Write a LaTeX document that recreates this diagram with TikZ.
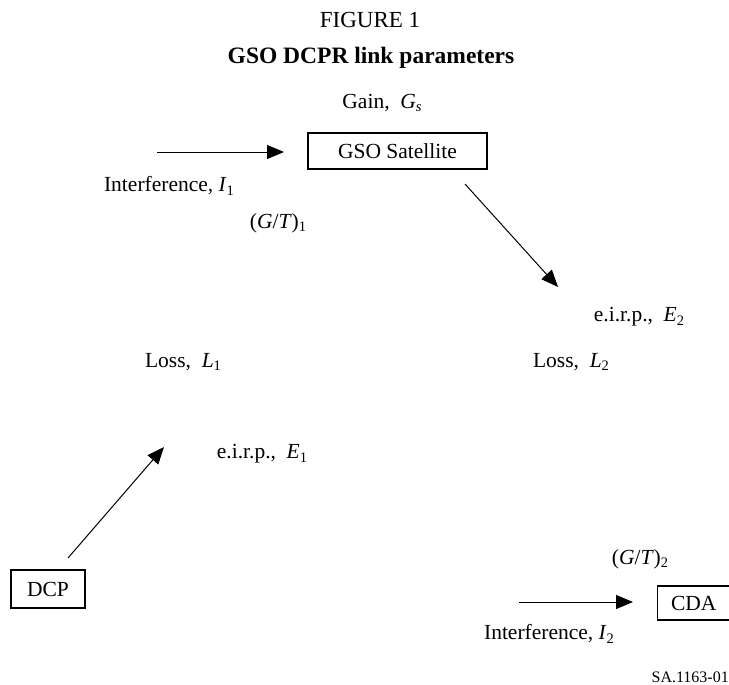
\documentclass[tikz,border=0pt]{standalone}
\usepackage{fontspec}
\setmainfont{Liberation Serif}
\usetikzlibrary{arrows.meta}
\newcommand{\vsub}[2]{\textit{#1}\raisebox{-0.35ex}{\fontsize{14.5}{14}\selectfont #2}}

\begin{document}
\begin{tikzpicture}[x=1pt,y=-1pt]
\tikzstyle{txt}=[inner sep=0pt, font=\fontsize{21.5}{26}\selectfont]
\tikzstyle{station}=[txt, draw, line width=1.4pt, minimum height=36pt]
\tikzstyle{link}=[line width=1pt, -{Triangle[length=17pt,width=14pt]}]
\useasboundingbox (0,0) rectangle (729,685);

\node[txt, font=\fontsize{23}{28}\selectfont] (fig) at (370,20) {FIGURE 1};
\node[txt, font=\fontsize{23.5}{28}\selectfont\bfseries] (title) at (371,58) {GSO DCPR link parameters};

% satellite
\node[station, minimum width=179pt] (sat) at (397.5,151) {GSO Satellite};
\node[txt] (gain) at (382,103) {Gain,\ \ \vsub{G}{\textit{s}}};
\node[txt] (int1) at (169,186) {Interference, \vsub{I}{1}};
\node[txt] (gt1) at (278,223) {(\textit{G}/\textit{T})\raisebox{-0.35ex}{\fontsize{14.5}{14}\selectfont 1}};

% ground stations
\node[station, minimum width=74pt, minimum height=38pt] (dcp) at (48,589) {DCP};
\node[station, minimum width=80pt, minimum height=34pt, anchor=west] (cda) at (657,603) {\hspace*{-8pt}CDA};

\node[txt] (eirp2) at (639,317) {e.i.r.p.,\ \ \vsub{E}{2}};
\node[txt] (loss1) at (183,362) {Loss,\ \ \vsub{L}{1}};
\node[txt] (loss2) at (571,362) {Loss,\ \ \vsub{L}{2}};
\node[txt] (eirp1) at (262,454) {e.i.r.p.,\ \ \vsub{E}{1}};
\node[txt] (gt2) at (640,559) {(\textit{G}/\textit{T})\raisebox{-0.35ex}{\fontsize{14.5}{14}\selectfont 2}};
\node[txt] (int2) at (549,634) {Interference, \vsub{I}{2}};
\node[txt, font=\fontsize{16}{18}\selectfont, anchor=east] (ref) at (729,677) {SA.1163-01};

% link ends
\coordinate (i1s) at (157,152);
\coordinate (i1e) at (284,152);
\coordinate (dns) at (465,184);
\coordinate (dne) at (558,287);
\coordinate (ups) at (68,558);
\coordinate (upe) at (164,447);
\coordinate (i2s) at (519,602);
\coordinate (i2e) at (633,602);

\draw[link] (i1s) -- (i1e);
\draw[link] (dns) -- (dne);
\draw[link] (ups) -- (upe);
\draw[link] (i2s) -- (i2e);

\end{tikzpicture}
\end{document}
